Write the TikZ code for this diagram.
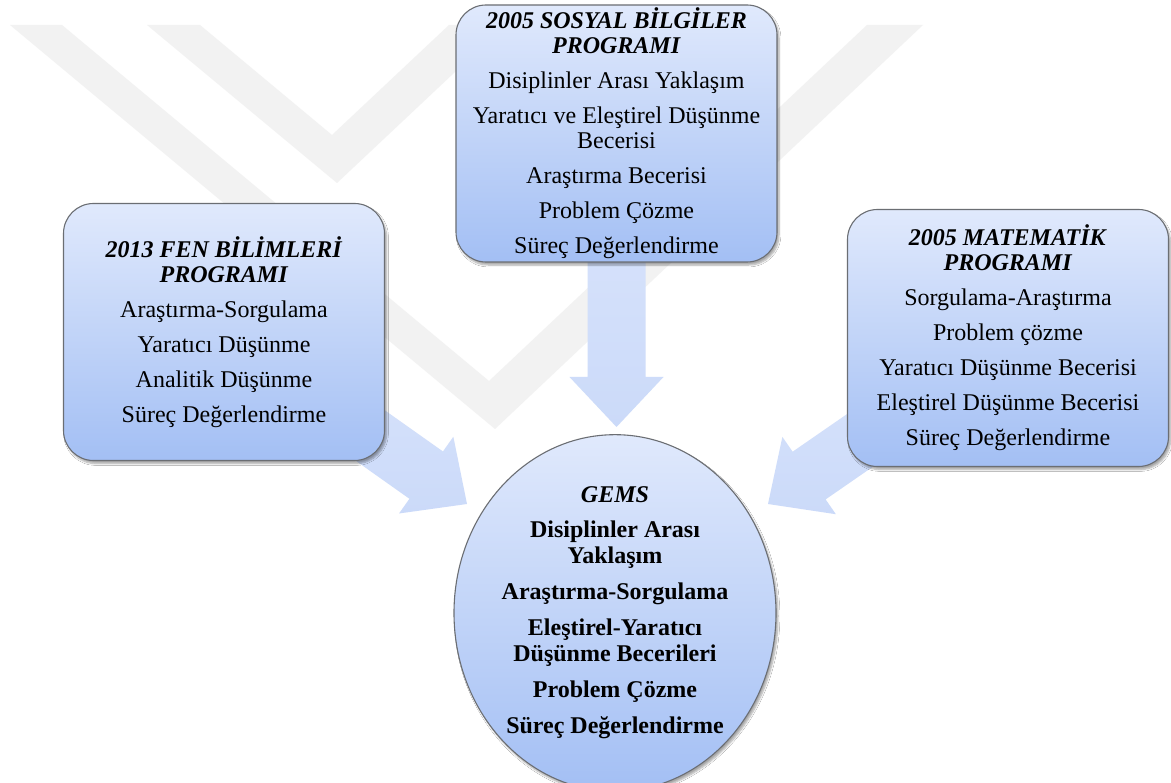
\documentclass[tikz,border=0pt]{standalone}
\usepackage{fontspec}
\setmainfont{Liberation Serif}
\usetikzlibrary{shapes.geometric,shadows.blur,calc}

\definecolor{boxtop}{HTML}{E0E9FC}
\definecolor{boxbot}{HTML}{A3BFF4}
\definecolor{arrtop}{HTML}{DCE6FC}
\definecolor{arrbot}{HTML}{CBDAF9}
\definecolor{edgegrey}{HTML}{6B6E73}
\definecolor{wmgrey}{HTML}{F2F2F2}

\pgfdeclarelayer{wm}
\pgfdeclarelayer{background}
\pgfsetlayers{wm,background,main}

\newcommand\progtitle[1]{\textbf{\textit{#1}}}

% block arrow from a tail point to a tip point
\newcommand\flowarrow[2]{%
  \path ($(#2)!50pt!(#1)$) coordinate (hb);
  \path[flowarrow]
    ($(#1)!29pt!90:(#2)$) -- ($(hb)!29pt!90:(#2)$) -- ($(hb)!47pt!90:(#2)$)
    -- (#2)
    -- ($(hb)!47pt!-90:(#2)$) -- ($(hb)!29pt!-90:(#2)$) -- ($(#1)!29pt!-90:(#2)$)
    -- cycle;
}

\tikzset{
  prog/.style={draw=edgegrey, line width=1.1pt, rounded corners=30pt,
    top color=boxtop, bottom color=boxbot,
    minimum width=321pt, minimum height=257pt, inner sep=0pt,
    align=center, font=\fontsize{24}{25}\selectfont,
    blur shadow={shadow xshift=2pt, shadow yshift=-3pt, shadow blur steps=6, shadow opacity=35}},
  gems/.style={ellipse, draw=edgegrey, line width=1.1pt,
    top color=boxtop, bottom color=boxbot,
    minimum width=322pt, minimum height=338pt, inner sep=0pt,
    align=center, font=\fontsize{24}{26}\selectfont\bfseries,
    blur shadow={shadow xshift=2pt, shadow yshift=-3pt, shadow blur steps=6, shadow opacity=35}},
  flowarrow/.style={top color=arrtop, bottom color=arrbot},
  watermark/.style={fill=wmgrey}
}

\begin{document}
\begin{tikzpicture}[x=1pt, y=-1pt]
\useasboundingbox (0,0) rectangle (1171,783);

% programme boxes
\node[prog] (sos) at (616.5,133.5) {%
  \progtitle{2005 SOSYAL BİLGİLER}\\
  \progtitle{PROGRAMI}\\[10pt]
  Disiplinler Arası Yaklaşım\\[10pt]
  Yaratıcı ve Eleştirel Düşünme\\
  Becerisi\\[10pt]
  Araştırma Becerisi\\[10pt]
  Problem Çözme\\[10pt]
  Süreç Değerlendirme};

\node[prog] (fen) at (224,332) {%
  \progtitle{2013 FEN BİLİMLERİ}\\
  \progtitle{PROGRAMI}\\[10pt]
  Araştırma-Sorgulama\\[10pt]
  Yaratıcı Düşünme\\[10pt]
  Analitik Düşünme\\[10pt]
  Süreç Değerlendirme};

\node[prog] (mat) at (1008,338) {%
  \progtitle{2005 MATEMATİK}\\
  \progtitle{PROGRAMI}\\[10pt]
  Sorgulama-Araştırma\\[10pt]
  Problem çözme\\[10pt]
  Yaratıcı Düşünme Becerisi\\[10pt]
  Eleştirel Düşünme Becerisi\\[10pt]
  Süreç Değerlendirme};

% GEMS ellipse
\node[gems] (gems) at (615,613) {%
  \textit{GEMS}\\[9pt]
  Disiplinler Arası\\
  Yaklaşım\\[10pt]
  Araştırma-Sorgulama\\[10pt]
  Eleştirel-Yaratıcı\\
  Düşünme Becerileri\\[10pt]
  Problem Çözme\\[10pt]
  Süreç Değerlendirme};

% arrow tips just outside the ellipse
\coordinate (soshead) at (616.5,427);
\coordinate (fenhead) at (467,504);
\coordinate (mathead) at (768,504);

\begin{pgfonlayer}{wm}
  \fill[white] (0,0) rectangle (1171,783);
  \path[watermark] (10,25) -- (62,25) -- (489,381) -- (867,25) -- (923,25) -- (495,429) -- cycle;
  \path[watermark] (147,25) -- (200,25) -- (332,135) -- (449,25) -- (505,25) -- (337,183) -- cycle;
\end{pgfonlayer}

\begin{pgfonlayer}{background}
  \flowarrow{sos.center}{soshead}
  \flowarrow{fen.center}{fenhead}
  \flowarrow{mat.center}{mathead}
\end{pgfonlayer}
\end{tikzpicture}
\end{document}
